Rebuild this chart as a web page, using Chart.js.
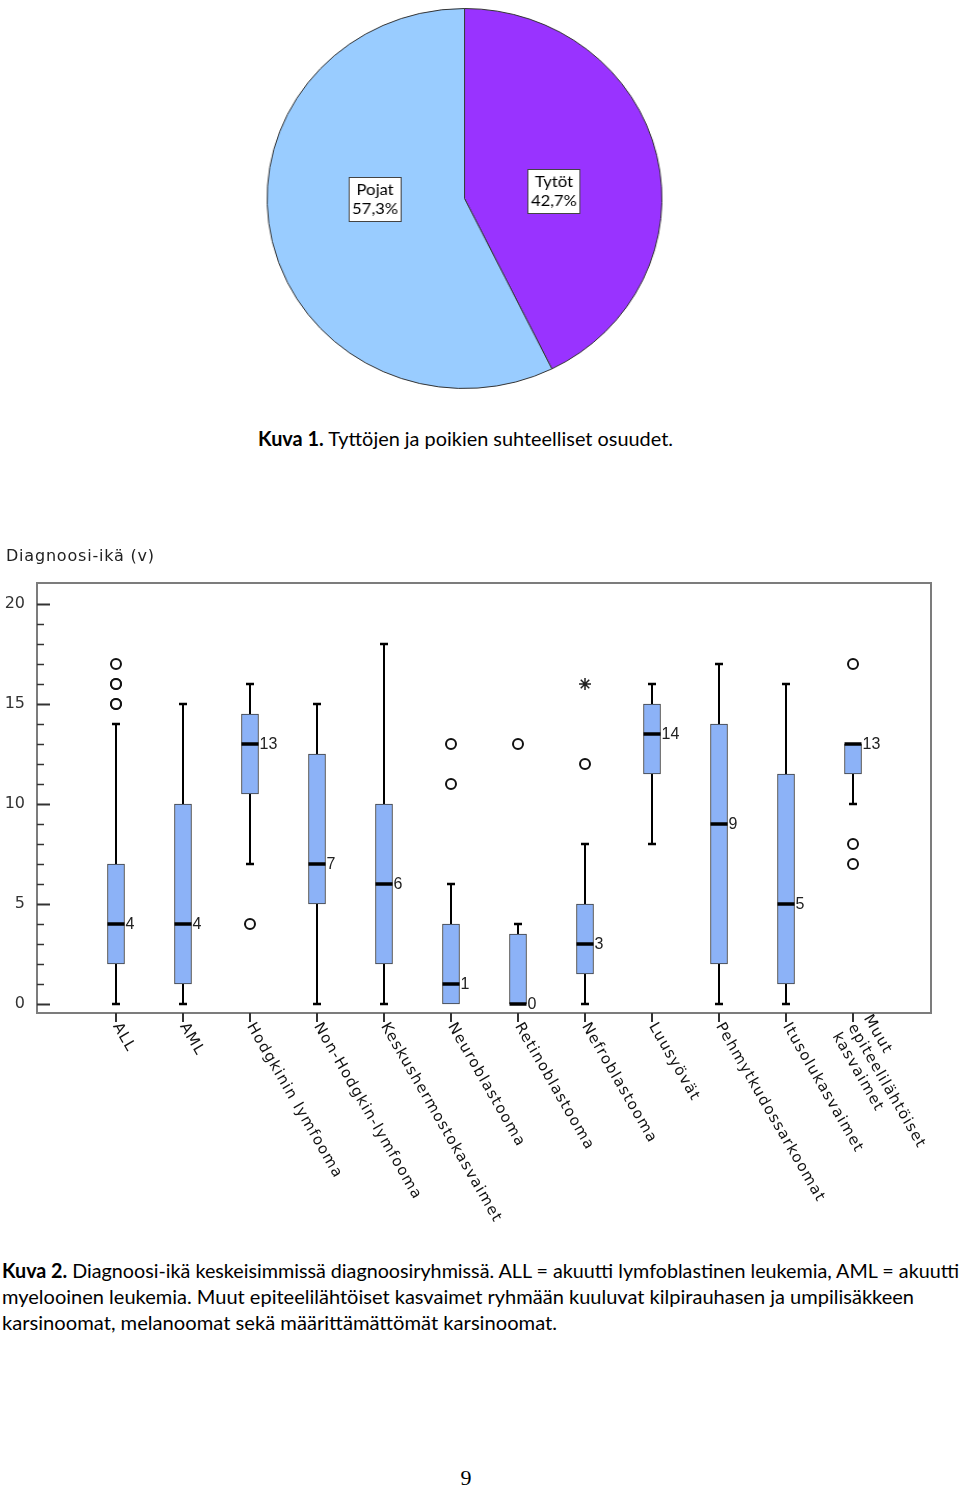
<!DOCTYPE html>
<html lang="fi">
<head>
<meta charset="UTF-8">
<title>Kuva 1 ja Kuva 2</title>
<script src="https://cdn.jsdelivr.net/npm/chart.js@4.4.1/dist/chart.umd.min.js"></script>
<style>
  body { margin: 0; width: 960px; height: 1487px; position: relative; background: #fff; overflow: hidden; }
  #pieWrap { position: absolute; left: 273px; top: 7px; width: 383px; height: 383px; transform: scaleX(1.039); transform-origin: center; }
  #boxWrap { position: absolute; left: 0; top: 540px; width: 960px; height: 700px; }
  .cap { position: absolute; white-space: nowrap; font-family: Lato, "Open Sans", sans-serif; font-size: 20px; color: #000; transform-origin: left center; line-height: 1; }
  .pageno { position: absolute; left: 0; width: 932px; top: 1465px; text-align: center; font-family: "Liberation Serif", serif; font-size: 22px; }
</style>
</head>
<body>
<div id="pieWrap"><canvas id="pie"></canvas></div>
<div id="boxWrap"><canvas id="box"></canvas></div>

<div class="cap" style="left:258px; top:438px" data-w="415"><b>Kuva 1.</b> Tyttöjen ja poikien suhteelliset osuudet.</div>
<div class="cap" style="left:2px; top:1270px" data-w="957"><b>Kuva 2.</b> Diagnoosi-ikä keskeisimmissä diagnoosiryhmissä. ALL = akuutti lymfoblastinen leukemia, AML = akuutti</div>
<div class="cap" style="left:2px; top:1296px" data-w="912">myelooinen leukemia. Muut epiteelilähtöiset kasvaimet ryhmään kuuluvat kilpirauhasen ja umpilisäkkeen</div>
<div class="cap" style="left:2px; top:1322px" data-w="555">karsinoomat, melanoomat sekä määrittämättömät karsinoomat.</div>
<div class="pageno">9</div>

<script>
// Kuva 1
const pieLabels = ['Tytöt', 'Pojat'];
const pieValues = [42.7, 57.3];
const pieColors = ['#9933ff', '#99ccff'];

// Kuva 2
const categories = ['ALL', 'AML', 'Hodgkinin lymfooma', 'Non-Hodgkin-lymfooma', 'Keskushermostokasvaimet',
  'Neuroblastooma', 'Retinoblastooma', 'Nefroblastooma', 'Luusyövät', 'Pehmytkudossarkoomat',
  'Itusolukasvaimet', ['Muut', 'epiteelilähtöiset', 'kasvaimet']];
const whiskerLow  = [0, 0, 7, 0, 0, 0, 0, 0, 8, 0, 0, 10];
const q1          = [2, 1, 10.5, 5, 2, 0, 0, 1.5, 11.5, 2, 1, 11.5];
const median      = [4, 4, 13, 7, 6, 1, 0, 3, 13.5, 9, 5, 13];
const q3          = [7, 10, 14.5, 12.5, 10, 4, 3.5, 5, 15, 14, 11.5, 13];
const whiskerHigh = [14, 15, 16, 15, 18, 6, 4, 8, 16, 17, 16, 13];
const medianLabels = ['4', '4', '13', '7', '6', '1', '0', '3', '14', '9', '5', '13'];
const outliers = [[15, 15, 16, 16, 17], [], [4], [], [], [11, 13], [13], [12], [], [], [], [7, 8, 17]];
const extremes = [[], [], [], [], [], [], [], [16], [], [], [], []];
const yTicks = [0, 5, 10, 15, 20];

// ---- pie ----
const pieLabelBoxes = {
  id: 'pieLabelBoxes',
  afterDatasetsDraw(chart) {
    const ctx = chart.ctx;
    const arcs = chart.getDatasetMeta(0).data;
    ctx.save();
    ctx.font = '16px Lato, sans-serif';
    ctx.textAlign = 'center';
    ctx.textBaseline = 'middle';
    arcs.forEach((arc, i) => {
      const mid = (arc.startAngle + arc.endAngle) / 2;
      const cx = arc.x + Math.cos(mid) * arc.outerRadius * 0.465;
      const cy = arc.y - 3.5 + Math.sin(mid) * 17.6;
      const lines = [pieLabels[i], pieValues[i].toFixed(1).replace('.', ',') + '%'];
      const w = Math.max(...lines.map(l => ctx.measureText(l).width)) + 6;
      const h = 44;
      ctx.fillStyle = '#fff';
      ctx.fillRect(cx - w / 2, cy - h / 2, w, h);
      ctx.strokeStyle = '#444';
      ctx.lineWidth = 1;
      ctx.strokeRect(Math.round(cx - w / 2) + 0.5, Math.round(cy - h / 2) + 0.5, Math.round(w), h);
      ctx.fillStyle = '#000';
      ctx.fillText(lines[0], cx, cy - 9);
      ctx.fillText(lines[1], cx, cy + 10);
    });
    ctx.restore();
  }
};

new Chart(document.getElementById('pie'), {
  type: 'pie',
  data: {
    labels: pieLabels,
    datasets: [{ data: pieValues, backgroundColor: pieColors, borderColor: '#333', borderWidth: 1 }]
  },
  options: {
    responsive: true,
    maintainAspectRatio: false,
    animation: false,
    events: [],
    layout: { padding: 1 },
    plugins: { legend: { display: false }, tooltip: { enabled: false } }
  },
  plugins: [pieLabelBoxes]
});

// ---- box plot ----
const boxParts = {
  id: 'boxParts',
  beforeDatasetsDraw(chart) {
    const { ctx, scales: { x, y } } = chart;
    ctx.save();
    ctx.strokeStyle = '#000';
    ctx.lineWidth = 2;
    categories.forEach((c, i) => {
      const px = Math.round(x.getPixelForValue(i));
      const seg = (from, to) => {
        if (from === to) return;
        const y0 = y.getPixelForValue(from), y1 = y.getPixelForValue(to);
        ctx.beginPath(); ctx.moveTo(px, y0); ctx.lineTo(px, y1); ctx.stroke();
        ctx.lineWidth = 2.5;
        ctx.beginPath(); ctx.moveTo(px - 4, y1); ctx.lineTo(px + 4, y1); ctx.stroke();
        ctx.lineWidth = 2;
      };
      seg(q3[i], whiskerHigh[i]);
      seg(q1[i], whiskerLow[i]);
    });
    ctx.restore();
  },
  afterDatasetsDraw(chart) {
    const { ctx, scales: { y } } = chart;
    const bars = chart.getDatasetMeta(0).data;
    ctx.save();
    bars.forEach((bar, i) => {
      const py = y.getPixelForValue(median[i]);
      ctx.strokeStyle = '#000';
      ctx.lineWidth = 3.5;
      ctx.beginPath();
      ctx.moveTo(bar.x - bar.width / 2, py);
      ctx.lineTo(bar.x + bar.width / 2, py);
      ctx.stroke();
      ctx.fillStyle = '#222';
      ctx.font = '16px "Liberation Sans", Arial, sans-serif';
      ctx.textAlign = 'left';
      ctx.textBaseline = 'middle';
      ctx.fillText(medianLabels[i], bar.x + bar.width / 2 + 1, py + 1);
    });
    ctx.restore();
  },
  afterDraw(chart) {
    const { ctx, chartArea: a, scales: { x, y } } = chart;
    ctx.save();
    // frame
    ctx.strokeStyle = '#7c7c7c';
    ctx.lineWidth = 2;
    ctx.strokeRect(a.left, a.top, a.right - a.left, a.bottom - a.top);
    // y ticks, drawn inward
    ctx.strokeStyle = '#333';
    for (let v = 0; v <= 20; v++) {
      const py = Math.round(y.getPixelForValue(v)) + 0.5;
      ctx.lineWidth = yTicks.includes(v) ? 2 : 1.5;
      ctx.beginPath();
      ctx.moveTo(a.left, py);
      ctx.lineTo(a.left + (yTicks.includes(v) ? 13 : 7), py);
      ctx.stroke();
    }
    // x ticks and rotated labels
    ctx.lineWidth = 2;
    ctx.font = '15px "DejaVu Sans", Verdana, sans-serif';
    ctx.letterSpacing = '1.2px';
    ctx.fillStyle = '#111';
    ctx.textAlign = 'left';
    ctx.textBaseline = 'middle';
    categories.forEach((c, i) => {
      const px = Math.round(x.getPixelForValue(i));
      ctx.beginPath();
      ctx.moveTo(px, a.bottom);
      ctx.lineTo(px, a.bottom + 9);
      ctx.stroke();
      ctx.save();
      ctx.translate(px, a.bottom + 11);
      ctx.rotate(Math.PI / 3);
      const lines = Array.isArray(c) ? c : [c];
      const offs = lines.length === 1 ? [0] : [-16, 2, 20];
      lines.forEach((l, k) => ctx.fillText(l, 0, offs[k]));
      ctx.restore();
    });
    // axis title
    ctx.letterSpacing = '0.8px';
    ctx.font = '16px "DejaVu Sans", Verdana, sans-serif';
    ctx.fillStyle = '#222';
    ctx.textBaseline = 'middle';
    ctx.fillText('Diagnoosi-ikä (v)', 6, 17);
    ctx.restore();
  }
};

const boxData = categories.map((c, i) => ({ x: i, y: [q1[i], q3[i]] }));
const outlierData = [];
outliers.forEach((vals, i) => vals.forEach(v => outlierData.push({ x: i, y: v })));
const extremeData = [];
extremes.forEach((vals, i) => vals.forEach(v => extremeData.push({ x: i, y: v })));

new Chart(document.getElementById('box'), {
  type: 'bar',
  data: {
    datasets: [
      {
        data: boxData,
        backgroundColor: '#8cb2f7',
        borderColor: '#3c3c3c',
        borderWidth: 1,
        borderSkipped: false,
        barThickness: 17
      },
      {
        type: 'scatter',
        data: outlierData,
        pointStyle: 'circle',
        pointRadius: 5,
        pointBorderWidth: 2,
        pointBorderColor: '#111',
        pointBackgroundColor: '#fff'
      },
      {
        type: 'scatter',
        data: extremeData,
        pointStyle: 'star',
        pointRadius: 6,
        pointBorderWidth: 1.5,
        pointBorderColor: '#222',
        pointBackgroundColor: '#222'
      }
    ]
  },
  options: {
    responsive: true,
    maintainAspectRatio: false,
    animation: false,
    events: [],
    layout: { padding: { top: 43, right: 29, left: 0, bottom: 0 } },
    plugins: { legend: { display: false }, tooltip: { enabled: false } },
    scales: {
      x: {
        type: 'linear',
        offset: false,
        min: -1.179,
        max: 12.164,
        ticks: { display: false },
        grid: { display: false, drawTicks: false, offset: false },
        border: { display: false },
        afterFit(scale) { scale.height = 227; }
      },
      y: {
        min: -0.45,
        max: 21.05,
        ticks: {
          stepSize: 5,
          includeBounds: false,
          padding: 12,
          color: '#333',
          font: { family: '"DejaVu Sans", Verdana, sans-serif', size: 16 }
        },
        grid: { display: false, drawTicks: false },
        border: { display: false },
        afterFit(scale) { scale.width = 37; }
      }
    }
  },
  plugins: [boxParts]
});

// captions: squeeze each line to the width it has in the original
document.querySelectorAll('.cap').forEach(el => {
  const w = +el.dataset.w;
  const natural = el.getBoundingClientRect().width;
  el.style.transform = 'translateY(-50%) scaleX(' + (w / natural) + ')';
});
</script>
</body>
</html>
